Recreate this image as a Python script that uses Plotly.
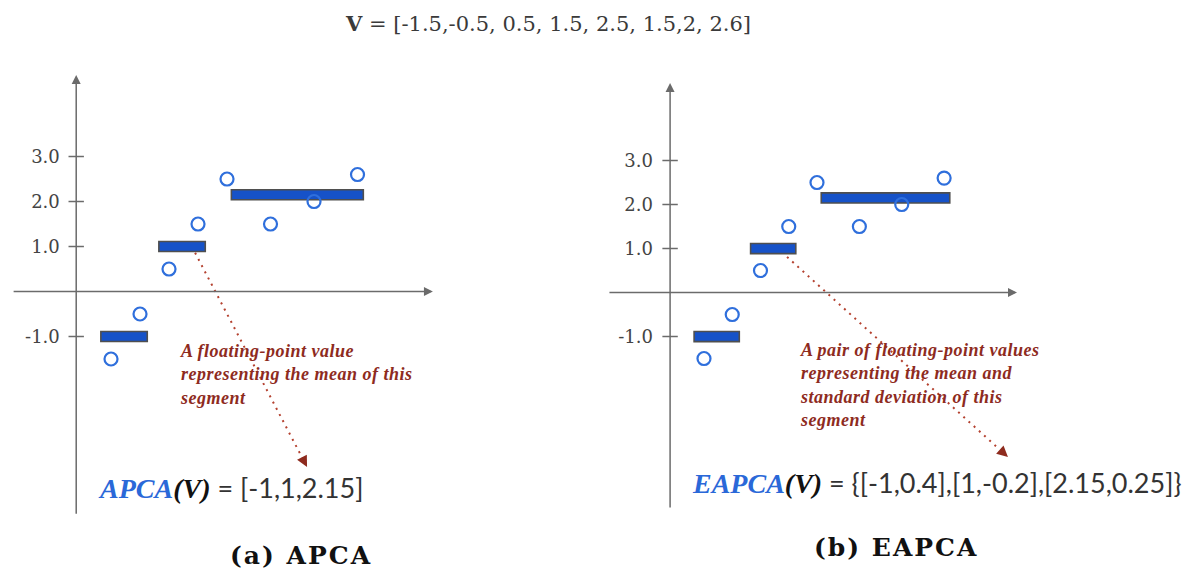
import plotly.graph_objects as go

W, H = 1193, 575

# Raw series V and the positions of its samples along the time axis
V = [-1.5, -0.5, 0.5, 1.5, 2.5, 1.5, 2, 2.6]
t = [1, 2, 3, 4, 5, 6.5, 8, 9.5]

# Piecewise-constant segments: extent along the time axis, mean and std-dev
seg_start = [0.65, 2.65, 5.15]
seg_end = [2.25, 4.25, 9.7]
seg_mean = [-1, 1, 2.15]
seg_std = [0.4, -0.2, 0.25]

# Vertical axis ticks
tick_vals = [3, 2, 1, -1]
tick_text = ["3.0", "2.0", "1.0", "-1.0"]

# Separators used when printing V in the heading
v_seps = [",", ", ", ", ", ", ", ", ", ",", ", "]

POINT_BLUE = "#2f6fdc"
BAR_BLUE = "#1652c8"
AXIS_GREY = "#6b6b6b"
NOTE_RED = "#8e2b1e"
DOT_RED = "#b4412f"


def fmt(v):
    return "%g" % v


def px(x):
    return x / W


def py(y):
    return 1 - y / H


fig = go.Figure()

panels = [
    dict(xa="x", ya="y", bar_h=0.22, yline=(-4.97, 4.81), xline=(-2.41, 12.1),
         arrow=((3.90, 0.86), (7.76, -3.90))),
    dict(xa="x2", ya="y2", bar_h=0.23, yline=(-4.92, 4.76), xline=(-2.40, 12.08),
         arrow=((3.94, 0.81), (11.76, -3.74))),
]
Y_AXIS_T = -0.2

annotations = []
for p in panels:
    xa, ya = p["xa"], p["ya"]
    xref, yref = xa, ya
    # segment means as horizontal blocks
    fig.add_trace(go.Bar(
        orientation="h", base=seg_start,
        x=[e - s for s, e in zip(seg_start, seg_end)], y=seg_mean,
        width=p["bar_h"],
        marker=dict(color=BAR_BLUE, line=dict(color="#4f4f4f", width=1.6)),
        xaxis=xa, yaxis=ya, showlegend=False, hoverinfo="skip",
    ))
    # raw samples
    fig.add_trace(go.Scatter(
        x=t, y=V, mode="markers", xaxis=xa, yaxis=ya, showlegend=False,
        marker=dict(symbol="circle-open", size=13, color=POINT_BLUE,
                    line=dict(width=2.2, color=POINT_BLUE)),
        cliponaxis=False,
    ))
    # tick marks crossing the vertical axis
    fig.add_trace(go.Scatter(
        x=[Y_AXIS_T] * len(tick_vals), y=tick_vals, mode="markers",
        xaxis=xa, yaxis=ya, showlegend=False, hoverinfo="skip",
        marker=dict(symbol="line-ew", size=11,
                    line=dict(width=1.5, color=AXIS_GREY)),
    ))
    # dotted pointer from the middle segment to the formula
    (x0, y0), (x1, y1) = p["arrow"]
    fx, fy = x0 + (x1 - x0) * 0.96, y0 + (y1 - y0) * 0.96
    fig.add_trace(go.Scatter(
        x=[x0, fx], y=[y0, fy], mode="lines", xaxis=xa, yaxis=ya,
        showlegend=False, hoverinfo="skip",
        line=dict(color=DOT_RED, width=2, dash="2px,5px"),
    ))
    annotations.append(dict(
        x=x1, y=y1, ax=fx, ay=fy, xref=xref, yref=yref, axref=xref, ayref=yref,
        text="", showarrow=True, arrowhead=2, arrowsize=1.1, arrowwidth=2,
        arrowcolor=NOTE_RED,
    ))
    # axes drawn as arrows through the origin
    annotations.append(dict(
        x=Y_AXIS_T, y=p["yline"][1], ax=Y_AXIS_T, ay=p["yline"][0],
        xref=xref, yref=yref, axref=xref, ayref=yref, text="", showarrow=True,
        arrowhead=2, arrowsize=1.2, arrowwidth=1.5, arrowcolor=AXIS_GREY,
    ))
    annotations.append(dict(
        x=p["xline"][1], y=0, ax=p["xline"][0], ay=0,
        xref=xref, yref=yref, axref=xref, ayref=yref, text="", showarrow=True,
        arrowhead=2, arrowsize=1.2, arrowwidth=1.5, arrowcolor=AXIS_GREY,
    ))


def label(x, y, text, font, xanchor="center", yanchor="middle", **kw):
    annotations.append(dict(
        x=px(x), y=py(y), xref="paper", yref="paper", showarrow=False,
        xanchor=xanchor, yanchor=yanchor, text=text, font=font, **kw,
    ))


def spaced(text, amount):
    return "<span style=\"letter-spacing:%spx\">%s</span>" % (amount, text)


# Heading with the raw series
v_txt = fmt(V[0])
for s, v in zip(v_seps, V[1:]):
    v_txt += s + fmt(v)
label(548, 23, "<b>V</b> = [" + v_txt + "]",
      dict(family="DejaVu Serif", size=21, color="#3a3a3a"))

note_font = dict(family="Liberation Serif", size=18, color=NOTE_RED,
                 weight="bold", style="italic")
label(178, 339,
      "<br>".join(spaced(s, 0.5) for s in
                  ["A floating-point value", "representing the mean of this",
                   "segment"]),
      note_font, xanchor="left", yanchor="top", align="left")
label(798, 338,
      "<br>".join(spaced(s, 0.5) for s in
                  ["A pair of floating-point values", "representing the mean and",
                   "standard deviation of this", "segment"]),
      note_font, xanchor="left", yanchor="top", align="left")

apca_vals = "[" + ",".join(fmt(m) for m in seg_mean) + "]"
eapca_vals = "{" + ",".join("[%s,%s]" % (fmt(m), fmt(s))
                            for m, s in zip(seg_mean, seg_std)) + "}"


def formula(name, rhs):
    return ("<span style=\"font-family:'Liberation Serif';font-size:28px;color:#2a68d8\">"
            "<b><i>" + name + "</i></b></span>"
            "<span style=\"font-family:'Liberation Serif';font-size:28px;color:#111\">"
            "<b><i>(V)</i></b></span> = " + rhs)


formula_font = dict(family="Lato", size=27, color="#333333")
label(96, 487, formula("APCA", apca_vals), formula_font, xanchor="left")
label(690, 482, formula("EAPCA", eapca_vals), formula_font, xanchor="left")

cap_font = dict(family="DejaVu Serif", size=25, color="#111111", weight="bold")
label(301, 555, spaced("(a) APCA", 2), cap_font)
label(896, 547, spaced("(b) EAPCA", 2), cap_font)

tick_font = dict(family="DejaVu Serif", size=18, color="#444444")
hidden_x = dict(visible=False, showgrid=False, zeroline=False, fixedrange=True)
y_common = dict(showgrid=False, zeroline=False, showline=False, tickvals=tick_vals,
                ticktext=tick_text, ticks="", tickfont=tick_font,
                ticklabelstandoff=17, anchor="free", domain=[0, 1])

fig.update_layout(
    width=W, height=H, margin=dict(l=0, r=0, t=0, b=0),
    paper_bgcolor="white", plot_bgcolor="white", barmode="overlay",
    showlegend=False,
    xaxis=dict(domain=[0, 0.5], range=[-2.828, 17.741], **hidden_x),
    xaxis2=dict(domain=[0.5, 1], range=[-2.805, 18.31], **hidden_x),
    yaxis=dict(range=[-6.3, 6.478], position=px(76.8), **y_common),
    yaxis2=dict(range=[-6.42, 6.648], position=px(669.9), **y_common),
    annotations=annotations,
)

fig.write_html("out.html")
